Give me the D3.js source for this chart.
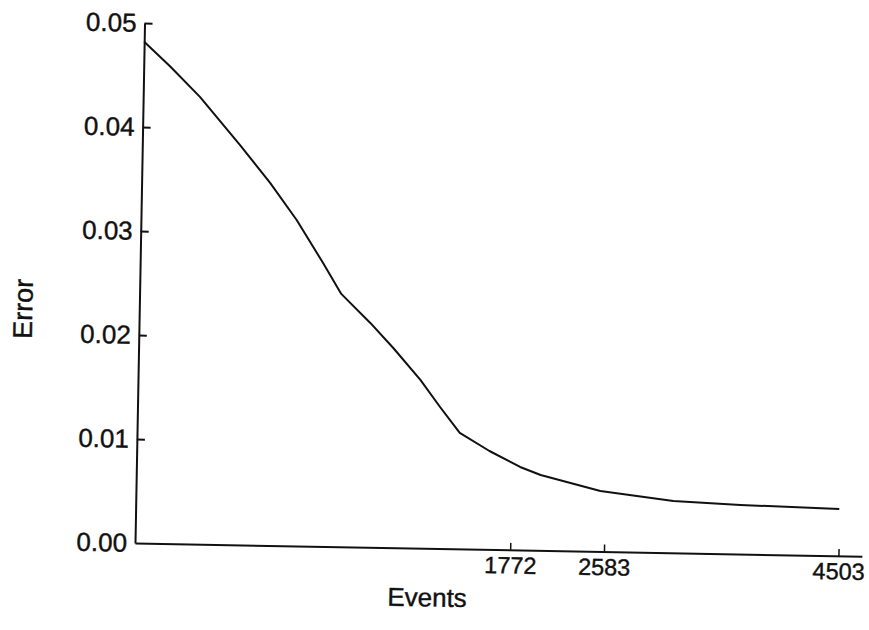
<!DOCTYPE html>
<html>
<head>
<meta charset="utf-8">
<script src="https://cdn.jsdelivr.net/npm/d3@7/dist/d3.min.js"></script>
<style>
  html, body { margin: 0; padding: 0; background: #fff; }
  svg { display: block; }
  text { font-family: "Liberation Sans", Arial, Helvetica, sans-serif; fill: #111; stroke: #111; stroke-width: 0.4px; }
</style>
</head>
<body>
<svg id="chart" width="869" height="630"></svg>
<script>
// Training stages along the horizontal axis and the error reached at each
const steps  = [0, 0.56, 1.21, 2.08, 2.74, 3.32, 3.90, 4.30, 4.93, 5.43, 6.02, 6.45, 6.88, 7.52, 8.18, 8.62, 9.90, 11.46, 12.89, 15];
const errors = [0.0482, 0.0459, 0.0430, 0.03845, 0.03486, 0.03134, 0.02725, 0.02431, 0.02157, 0.0192, 0.01618, 0.01361, 0.01115, 0.00947, 0.00799, 0.00725, 0.00582, 0.00499, 0.00472, 0.00451];

// Stages marked on the horizontal axis, labelled with the cumulative event count
const stageTicks  = [8, 10, 15];
const eventLabels = ["1772", "2583", "4503"];

// Error axis ticks
const errorTicks = [0, 0.01, 0.02, 0.03, 0.04, 0.05];

const svg = d3.select("#chart");
const W = 727, H = 520;

// The whole figure sits slightly tilted on the page
const g = svg.append("g")
  .attr("transform", "translate(135,543) rotate(1.05)");

const x = d3.scaleLinear().domain([0, 15.5]).range([0, W]);
const y = d3.scaleLinear().domain([0, 0.05]).range([0, -H]);

// Vertical axis: ticks point inward, labels to the left
const yAxis = g.append("g")
  .call(d3.axisLeft(y)
    .tickValues(errorTicks)
    .tickFormat(d3.format(".2f"))
    .tickSizeInner(-8)
    .tickSizeOuter(0)
    .tickPadding(8));
yAxis.selectAll("text").style("font-size", "26px").attr("fill", "#111");
yAxis.selectAll("line").attr("stroke", "#111").attr("stroke-width", 2);
yAxis.select(".domain").attr("stroke", "#111").attr("stroke-width", 2);
yAxis.selectAll(".tick").filter(d => d === 0).select("line").remove();

// Horizontal axis: ticks point up into the plot
const xAxis = g.append("g")
  .call(d3.axisBottom(x)
    .tickValues(stageTicks)
    .tickFormat((d, i) => eventLabels[i])
    .tickSizeInner(-7)
    .tickSizeOuter(0)
    .tickPadding(7));
xAxis.selectAll("text").style("font-size", "23.5px").attr("fill", "#111");
xAxis.selectAll("line").attr("stroke", "#111").attr("stroke-width", 1.5);
xAxis.select(".domain").attr("stroke", "#111").attr("stroke-width", 2);

// Error curve
const pts = steps.map((s, i) => ({ s, e: errors[i] }));
g.append("path")
  .datum(pts)
  .attr("fill", "none")
  .attr("stroke", "#111")
  .attr("stroke-width", 2)
  .attr("stroke-linejoin", "round")
  .attr("d", d3.line().x(d => x(d.s)).y(d => y(d.e)));

// Axis titles
g.append("text")
  .attr("x", 293)
  .attr("y", 58)
  .attr("text-anchor", "middle")
  .style("font-size", "26px")
  .text("Events");

g.append("text")
  .attr("transform", "translate(-107,-232) rotate(-90)")
  .attr("text-anchor", "middle")
  .style("font-size", "27px")
  .text("Error");
</script>
</body>
</html>
